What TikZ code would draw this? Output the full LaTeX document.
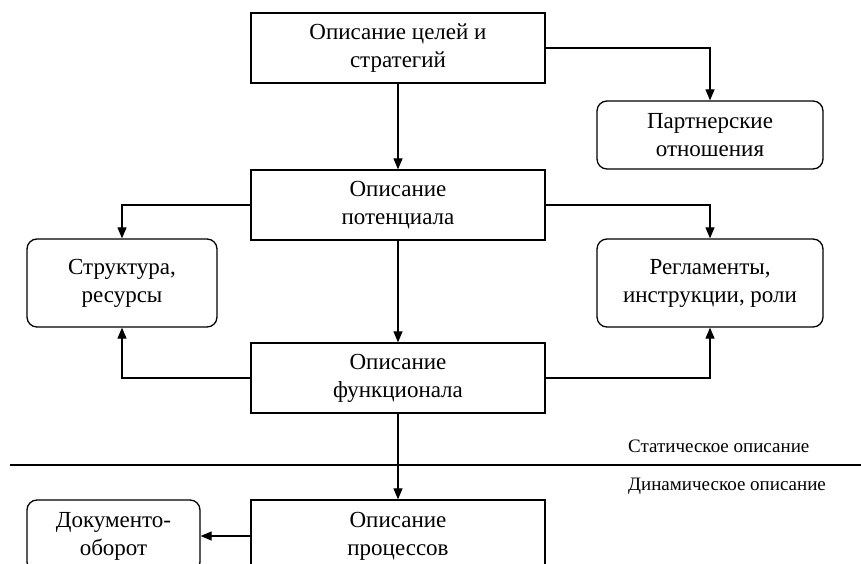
\documentclass[tikz,border=0pt]{standalone}
\usepackage{fontspec}
\setmainfont{Liberation Serif}
\usetikzlibrary{arrows.meta}
\begin{document}
\begin{tikzpicture}[x=1pt,y=-1pt,
  box/.style={draw, line width=1.3pt, align=center, inner sep=0pt,
    font=\fontsize{23}{28}\selectfont},
  rbox/.style={box, rounded corners=10pt},
  arr/.style={line width=1.2pt, -{Triangle[length=11pt,width=9pt]}},
  lbl/.style={font=\fontsize{19}{22}\selectfont, inner sep=0pt, anchor=west}]
\useasboundingbox (0,0) rectangle (861,564);
\clip (0,0) rectangle (861,564);
\fill[white] (0,0) rectangle (861,564);
\node[box, minimum width=294pt, minimum height=70pt] (top) at (398,48) {Описание целей и\\стратегий};
\node[rbox, minimum width=226pt, minimum height=68pt] (partner) at (710,135) {Партнерские\\отношения};
\node[box, minimum width=294pt, minimum height=70pt] (pot) at (398,205) {Описание\\потенциала};
\node[rbox, minimum width=190pt, minimum height=88pt] (struct) at (122,283) {Структура,\\ресурсы};
\node[rbox, minimum width=226pt, minimum height=88pt] (regl) at (710,283) {Регламенты,\\инструкции, роли};
\node[box, minimum width=294pt, minimum height=70pt] (func) at (398,378) {Описание\\функционала};
\node[box, minimum width=294pt, minimum height=72pt] (proc) at (398,536) {Описание\\процессов};
\node[rbox, minimum width=173pt, minimum height=72pt] (doc) at (113.5,536) {Документо-\\оборот};
\coordinate (l1) at (10,465);
\coordinate (l2) at (861,465);
\draw[line width=1.2pt] (l1) -- (l2);
\node[lbl] (stat) at (628,446) {Статическое описание};
\node[lbl] (dyn) at (628,486) {Динамическое описание};
\draw[arr] (top.east) -| (partner.north);
\draw[arr] (top.south) -- (pot.north);
\draw[arr] (pot.east) -| (regl.north);
\draw[arr] (pot.west) -| (struct.north);
\draw[arr] (pot.south) -- (func.north);
\draw[arr] (func.west) -| (struct.south);
\draw[arr] (func.east) -| (regl.south);
\draw[arr] (func.south) -- (proc.north);
\draw[arr] (proc.west) -- (doc.east);
\end{tikzpicture}
\end{document}
